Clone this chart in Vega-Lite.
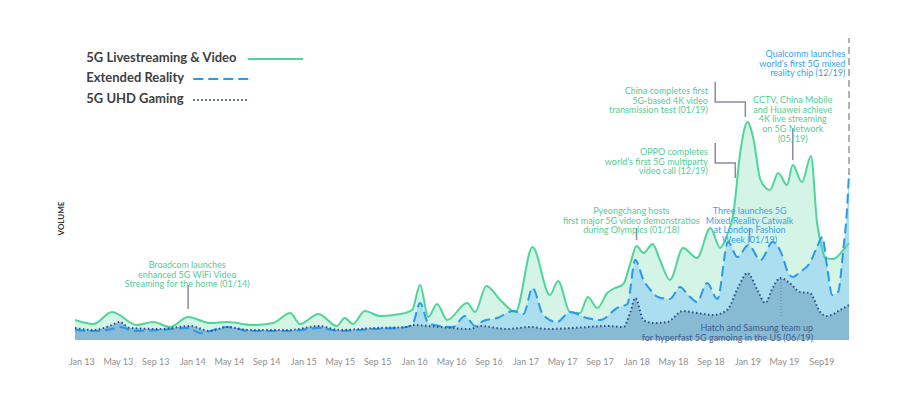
{
  "$schema": "https://vega.github.io/schema/vega-lite/v6.json",
  "width": 774,
  "height": 320,
  "autosize": {"type": "none"},
  "padding": {"left": 75, "top": 20, "right": 51, "bottom": 64},
  "background": "white",
  "config": {"view": {"stroke": null}, "font": "Lato"},
  "datasets": {
    "series": [
      {"s":"video","d":"2012-12-11","v":20},{"s":"video","d":"2013-02-10","v":16},{"s":"video","d":"2013-04-12","v":28},{"s":"video","d":"2013-07-02","v":15},{"s":"video","d":"2013-08-25","v":18},{"s":"video","d":"2013-10-20","v":13},{"s":"video","d":"2013-12-18","v":23},{"s":"video","d":"2014-02-28","v":17},{"s":"video","d":"2014-04-25","v":18},{"s":"video","d":"2014-07-19","v":15},{"s":"video","d":"2014-09-24","v":17},{"s":"video","d":"2014-11-19","v":27},{"s":"video","d":"2014-12-21","v":16},{"s":"video","d":"2015-02-20","v":26},{"s":"video","d":"2015-04-21","v":14},{"s":"video","d":"2015-05-17","v":22},{"s":"video","d":"2015-06-13","v":16},{"s":"video","d":"2015-07-22","v":29},{"s":"video","d":"2015-09-11","v":24},{"s":"video","d":"2015-11-16","v":26},{"s":"video","d":"2015-12-25","v":30},{"s":"video","d":"2016-01-20","v":55},{"s":"video","d":"2016-02-16","v":23},{"s":"video","d":"2016-03-16","v":36},{"s":"video","d":"2016-04-18","v":20},{"s":"video","d":"2016-06-23","v":37},{"s":"video","d":"2016-07-19","v":28},{"s":"video","d":"2016-08-25","v":54},{"s":"video","d":"2016-10-10","v":40},{"s":"video","d":"2016-11-29","v":28},{"s":"video","d":"2017-01-24","v":93},{"s":"video","d":"2017-03-22","v":45},{"s":"video","d":"2017-04-18","v":59},{"s":"video","d":"2017-05-27","v":28},{"s":"video","d":"2017-06-29","v":27},{"s":"video","d":"2017-07-25","v":43},{"s":"video","d":"2017-08-25","v":32},{"s":"video","d":"2017-09-27","v":47},{"s":"video","d":"2017-10-16","v":51},{"s":"video","d":"2017-11-19","v":56},{"s":"video","d":"2017-12-12","v":77},{"s":"video","d":"2018-01-01","v":94},{"s":"video","d":"2018-01-24","v":87},{"s":"video","d":"2018-02-23","v":96},{"s":"video","d":"2018-03-19","v":80},{"s":"video","d":"2018-04-21","v":60},{"s":"video","d":"2018-06-03","v":92},{"s":"video","d":"2018-07-19","v":82},{"s":"video","d":"2018-09-01","v":112},{"s":"video","d":"2018-10-03","v":92},{"s":"video","d":"2018-10-26","v":105},{"s":"video","d":"2018-11-16","v":127},{"s":"video","d":"2018-12-08","v":187},{"s":"video","d":"2019-01-01","v":218},{"s":"video","d":"2019-01-20","v":202},{"s":"video","d":"2019-02-13","v":160},{"s":"video","d":"2019-03-16","v":150},{"s":"video","d":"2019-04-12","v":167},{"s":"video","d":"2019-05-11","v":155},{"s":"video","d":"2019-05-30","v":175},{"s":"video","d":"2019-06-29","v":158},{"s":"video","d":"2019-07-29","v":184},{"s":"video","d":"2019-08-18","v":117},{"s":"video","d":"2019-08-28","v":100},{"s":"video","d":"2019-09-14","v":82},{"s":"video","d":"2019-10-10","v":81},{"s":"video","d":"2019-11-12","v":90},{"s":"video","d":"2019-12-01","v":97},
      {"s":"xr","d":"2012-12-11","v":10},{"s":"xr","d":"2013-02-10","v":9},{"s":"xr","d":"2013-04-12","v":11},{"s":"xr","d":"2013-05-07","v":13},{"s":"xr","d":"2013-06-26","v":9},{"s":"xr","d":"2013-09-17","v":10},{"s":"xr","d":"2013-12-18","v":12},{"s":"xr","d":"2014-01-27","v":7},{"s":"xr","d":"2014-04-25","v":13},{"s":"xr","d":"2014-07-09","v":9},{"s":"xr","d":"2014-11-19","v":9},{"s":"xr","d":"2015-02-20","v":12},{"s":"xr","d":"2015-05-01","v":9},{"s":"xr","d":"2015-08-18","v":11},{"s":"xr","d":"2015-11-16","v":12},{"s":"xr","d":"2015-12-25","v":15},{"s":"xr","d":"2016-01-20","v":37},{"s":"xr","d":"2016-02-16","v":17},{"s":"xr","d":"2016-03-25","v":14},{"s":"xr","d":"2016-05-07","v":13},{"s":"xr","d":"2016-06-16","v":24},{"s":"xr","d":"2016-07-19","v":14},{"s":"xr","d":"2016-08-15","v":19},{"s":"xr","d":"2016-09-30","v":22},{"s":"xr","d":"2016-11-22","v":29},{"s":"xr","d":"2016-12-25","v":26},{"s":"xr","d":"2017-01-24","v":52},{"s":"xr","d":"2017-02-28","v":25},{"s":"xr","d":"2017-04-15","v":18},{"s":"xr","d":"2017-05-27","v":28},{"s":"xr","d":"2017-07-22","v":22},{"s":"xr","d":"2017-09-04","v":20},{"s":"xr","d":"2017-10-29","v":32},{"s":"xr","d":"2017-12-02","v":36},{"s":"xr","d":"2017-12-28","v":80},{"s":"xr","d":"2018-01-24","v":60},{"s":"xr","d":"2018-02-16","v":50},{"s":"xr","d":"2018-03-12","v":43},{"s":"xr","d":"2018-04-21","v":41},{"s":"xr","d":"2018-05-24","v":53},{"s":"xr","d":"2018-06-20","v":45},{"s":"xr","d":"2018-07-19","v":38},{"s":"xr","d":"2018-08-21","v":57},{"s":"xr","d":"2018-09-24","v":41},{"s":"xr","d":"2018-10-29","v":98},{"s":"xr","d":"2018-11-29","v":83},{"s":"xr","d":"2019-01-04","v":95},{"s":"xr","d":"2019-02-13","v":80},{"s":"xr","d":"2019-03-25","v":98},{"s":"xr","d":"2019-04-25","v":85},{"s":"xr","d":"2019-05-11","v":70},{"s":"xr","d":"2019-05-30","v":63},{"s":"xr","d":"2019-06-23","v":68},{"s":"xr","d":"2019-07-25","v":77},{"s":"xr","d":"2019-08-18","v":93},{"s":"xr","d":"2019-09-04","v":103},{"s":"xr","d":"2019-09-20","v":73},{"s":"xr","d":"2019-10-07","v":45},{"s":"xr","d":"2019-10-26","v":48},{"s":"xr","d":"2019-11-12","v":90},{"s":"xr","d":"2019-11-25","v":133},{"s":"xr","d":"2019-12-01","v":167},
      {"s":"gaming","d":"2012-12-11","v":12},{"s":"gaming","d":"2013-02-10","v":10},{"s":"gaming","d":"2013-04-12","v":15},{"s":"gaming","d":"2013-05-07","v":18},{"s":"gaming","d":"2013-06-10","v":12},{"s":"gaming","d":"2013-09-17","v":11},{"s":"gaming","d":"2013-12-25","v":14},{"s":"gaming","d":"2014-02-28","v":9},{"s":"gaming","d":"2014-04-25","v":13},{"s":"gaming","d":"2014-07-09","v":10},{"s":"gaming","d":"2014-11-19","v":10},{"s":"gaming","d":"2015-02-20","v":14},{"s":"gaming","d":"2015-05-01","v":10},{"s":"gaming","d":"2015-08-25","v":12},{"s":"gaming","d":"2015-12-08","v":13},{"s":"gaming","d":"2015-12-28","v":15},{"s":"gaming","d":"2016-03-25","v":13},{"s":"gaming","d":"2016-07-02","v":11},{"s":"gaming","d":"2016-08-05","v":14},{"s":"gaming","d":"2016-11-02","v":11},{"s":"gaming","d":"2017-01-17","v":13},{"s":"gaming","d":"2017-03-12","v":11},{"s":"gaming","d":"2017-06-07","v":12},{"s":"gaming","d":"2017-09-27","v":14},{"s":"gaming","d":"2017-11-19","v":13},{"s":"gaming","d":"2017-12-12","v":28},{"s":"gaming","d":"2017-12-28","v":42},{"s":"gaming","d":"2018-01-24","v":20},{"s":"gaming","d":"2018-02-26","v":17},{"s":"gaming","d":"2018-04-12","v":18},{"s":"gaming","d":"2018-06-03","v":29},{"s":"gaming","d":"2018-07-19","v":27},{"s":"gaming","d":"2018-09-11","v":25},{"s":"gaming","d":"2018-10-26","v":30},{"s":"gaming","d":"2018-12-02","v":53},{"s":"gaming","d":"2019-01-01","v":67},{"s":"gaming","d":"2019-02-03","v":50},{"s":"gaming","d":"2019-02-28","v":37},{"s":"gaming","d":"2019-03-25","v":52},{"s":"gaming","d":"2019-04-18","v":62},{"s":"gaming","d":"2019-05-20","v":57},{"s":"gaming","d":"2019-06-23","v":48},{"s":"gaming","d":"2019-07-25","v":47},{"s":"gaming","d":"2019-08-28","v":28},{"s":"gaming","d":"2019-09-20","v":24},{"s":"gaming","d":"2019-11-02","v":30},{"s":"gaming","d":"2019-12-01","v":35}
    ],
    "notes": [
      {"id":"Broadcom","k":"video","d":"2013-12-15","v":75,"t":["Broadcom launches","enhanced 5G WiFi Video","Streaming for the home (01/14)"]},
      {"id":"Pyeongchang","k":"video","d":"2017-12-15","v":129,"t":["Pyeongchang hosts","first major 5G video demonstratios","during Olympics (01/18)"]},
      {"id":"CCTV","k":"video","d":"2019-05-30","v":240,"t":["CCTV, China Mobile","and Huawei achieve","4K live streaming","on 5G Network","(05/19)"]},
      {"id":"Three","k":"xr","d":"2019-01-08","v":129,"t":["Three launches 5G","Mixed Reality Catwalk","at London Fashion","Week (01/19)"]},
      {"id":"China","k":"video","d":"2018-08-24","v":249,"t":["China completes first","5G-based 4K video","transmission test (01/19)"]},
      {"id":"OPPO","k":"video","d":"2018-08-24","v":188,"t":["OPPO completes","world’s first 5G multiparty","video call (12/19)"]},
      {"id":"Qualcomm","k":"xr","d":"2019-11-19","v":286,"t":["Qualcomm launches","world’s first 5G mixed","reality chip (12/19)"]},
      {"id":"Hatch","k":"gaming","d":"2019-08-05","v":12,"t":["Hatch and Samsung team up","for hyperfast 5G gamoing in the US (06/19)"]}
    ],
    "pointers": [
      {"id":"Broadcom","d":"2013-12-18","v":31,"v2":55},
      {"id":"Pyeongchang","d":"2018-01-01","v":100,"v2":112},
      {"id":"CCTV","d":"2019-05-30","v":180,"v2":212},
      {"id":"Three","d":"2019-01-08","v":98,"v2":112},
      {"id":"Qualcomm","d":"2019-12-01","v":165,"v2":302},
      {"id":"Hatch","d":"2019-04-21","v":24,"v2":62}
    ],
    "elbows": [
      {"id":"China","o":1,"d":"2018-09-17","v":258},{"id":"China","o":2,"d":"2018-09-17","v":238},{"id":"China","o":3,"d":"2018-12-25","v":238},{"id":"China","o":4,"d":"2018-12-25","v":223},
      {"id":"OPPO","o":1,"d":"2018-09-17","v":197},{"id":"OPPO","o":2,"d":"2018-09-17","v":177},{"id":"OPPO","o":3,"d":"2018-11-22","v":177},{"id":"OPPO","o":4,"d":"2018-11-22","v":162}
    ],
    "legend": [
      {"s":"video","t":"5G Livestreaming & Video","d":"2013-01-17","v":282,"d1":"2014-07-02","d2":"2015-01-01","v1":281},
      {"s":"xr","t":"Extended Reality","d":"2013-01-17","v":262,"d1":"2014-01-04","d2":"2014-07-09","v1":261},
      {"s":"gaming","t":"5G UHD Gaming","d":"2013-01-17","v":241,"d1":"2014-01-04","d2":"2014-06-29","v1":240}
    ]
  },
  "encoding": {
    "x": {
      "field": "d", "type": "temporal",
      "scale": {"type": "utc", "domain": [{"year": 2012, "month": 12, "date": 11, "utc": true}, {"year": 2019, "month": 12, "date": 1, "utc": true}]},
      "axis": {"title": null, "domain": false, "ticks": false, "grid": false, "labelPadding": 17, "labelFontSize": 9, "labelColor": "#8f8f8f", "format": "%b %y", "tickCount": {"interval": "month", "step": 4}, "labelExpr": "datum.label == 'Sep 19' ? 'Sep19' : datum.label", "labelFlush": false, "labelOverlap": false}
    },
    "y": {
      "field": "v", "type": "quantitative",
      "scale": {"domain": [0, 320], "nice": false, "zero": true},
      "axis": {"title": "VOLUME", "labels": false, "ticks": false, "domain": false, "grid": false, "titleFontSize": 8, "titleFontWeight": "bold", "titleColor": "#333333", "titleAngle": 270, "titleAlign": "center", "titleBaseline": "middle", "titleX": -14, "titleY": 198}
    }
  },
  "layer": [
    {"data": {"name": "series"}, "transform": [{"filter": "datum.s == 'video'"}], "mark": {"type": "area", "interpolate": "monotone", "color": "#d4f4e5"}},
    {"data": {"name": "series"}, "transform": [{"filter": "datum.s == 'xr'"}], "mark": {"type": "area", "interpolate": "monotone", "color": "#abdeee"}},
    {"data": {"name": "series"}, "transform": [{"filter": "datum.s == 'gaming'"}], "mark": {"type": "area", "interpolate": "monotone", "color": "#87bad3"}},
    {"data": {"name": "series"}, "transform": [{"filter": "datum.s == 'video'"}], "mark": {"type": "line", "interpolate": "monotone", "color": "#4fd59b", "strokeWidth": 2}},
    {"data": {"name": "series"}, "transform": [{"filter": "datum.s == 'xr'"}], "mark": {"type": "line", "interpolate": "monotone", "color": "#2799ef", "strokeWidth": 2, "strokeDash": [10, 5]}},
    {"data": {"name": "series"}, "transform": [{"filter": "datum.s == 'gaming'"}], "mark": {"type": "line", "interpolate": "monotone", "color": "#2d4f8e", "strokeWidth": 2, "strokeDash": [1.5, 2.5]}},
    {"data": {"name": "pointers"}, "transform": [{"filter": "datum.id != 'Qualcomm' && datum.id != 'Hatch'"}], "mark": {"type": "rule", "color": "#8c88a8", "strokeWidth": 1.5}, "encoding": {"y2": {"field": "v2"}}},
    {"data": {"name": "pointers"}, "transform": [{"filter": "datum.id == 'Qualcomm'"}], "mark": {"type": "rule", "color": "#8a8a8a", "strokeWidth": 1.3, "strokeDash": [7, 4]}, "encoding": {"y2": {"field": "v2"}}},
    {"data": {"name": "pointers"}, "transform": [{"filter": "datum.id == 'Hatch'"}], "mark": {"type": "rule", "color": "#6f84a0", "strokeWidth": 1, "strokeDash": [1, 2]}, "encoding": {"y2": {"field": "v2"}}},
    {"data": {"name": "elbows"}, "mark": {"type": "line", "color": "#8c88a8", "strokeWidth": 1.5}, "encoding": {"detail": {"field": "id"}, "order": {"field": "o"}}},
    {"data": {"name": "notes"}, "transform": [{"filter": "indexof(['China','OPPO','Qualcomm','Hatch'], datum.id) < 0"}], "mark": {"type": "text", "align": "center", "baseline": "middle", "fontSize": 9, "lineHeight": 9.7},
     "encoding": {"text": {"field": "t", "type": "nominal"}, "color": {"field": "k", "type": "nominal", "scale": {"domain": ["video", "xr", "gaming"], "range": ["#55cc96", "#3a9fee", "#3e5d8e"]}, "legend": null}}},
    {"data": {"name": "notes"}, "transform": [{"filter": "indexof(['China','OPPO','Qualcomm','Hatch'], datum.id) >= 0"}], "mark": {"type": "text", "align": "right", "baseline": "middle", "fontSize": 9, "lineHeight": 9.7},
     "encoding": {"text": {"field": "t", "type": "nominal"}, "color": {"field": "k", "type": "nominal", "scale": {"domain": ["video", "xr", "gaming"], "range": ["#55cc96", "#3a9fee", "#3e5d8e"]}, "legend": null}}},
    {"data": {"name": "legend"}, "mark": {"type": "text", "align": "left", "baseline": "middle", "fontSize": 13, "fontWeight": "bold", "color": "#404040"}, "encoding": {"text": {"field": "t", "type": "nominal"}}},
    {"data": {"name": "legend"}, "transform": [{"filter": "datum.s == 'video'"}], "mark": {"type": "rule", "color": "#4fd59b", "strokeWidth": 2}, "encoding": {"x": {"field": "d1", "type": "temporal"}, "x2": {"field": "d2"}, "y": {"field": "v1", "type": "quantitative"}}},
    {"data": {"name": "legend"}, "transform": [{"filter": "datum.s == 'xr'"}], "mark": {"type": "rule", "color": "#2799ef", "strokeWidth": 2, "strokeDash": [10, 5]}, "encoding": {"x": {"field": "d1", "type": "temporal"}, "x2": {"field": "d2"}, "y": {"field": "v1", "type": "quantitative"}}},
    {"data": {"name": "legend"}, "transform": [{"filter": "datum.s == 'gaming'"}], "mark": {"type": "rule", "color": "#2d4f8e", "strokeWidth": 2, "strokeDash": [1.5, 2.5]}, "encoding": {"x": {"field": "d1", "type": "temporal"}, "x2": {"field": "d2"}, "y": {"field": "v1", "type": "quantitative"}}}
  ]
}
